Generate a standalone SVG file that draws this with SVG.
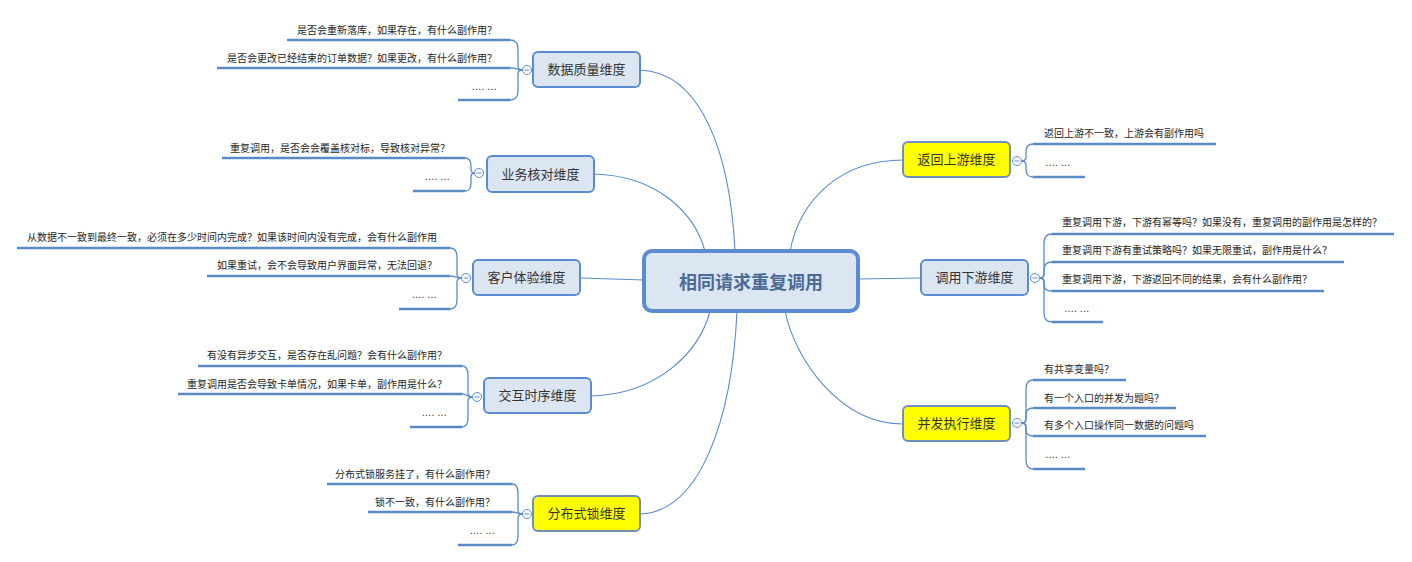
<svg xmlns="http://www.w3.org/2000/svg" width="1412" height="562" viewBox="0 0 1412 562">
<style>
  .bg{fill:#ffffff}
  .conn{fill:none;stroke:#5b8bcb;stroke-width:1.1}
  .brk{fill:none;stroke:#5b8bcb;stroke-width:1.3}
  .ul{stroke:#5a8ac6;stroke-width:2.6;stroke-linecap:butt}
  .leaf{font-family:"Liberation Sans","Noto Sans CJK SC",sans-serif;font-size:10px;fill:#262626}
  .leafL{text-anchor:end}
  .main{fill:#dce6f2;stroke:#5b8bd0;stroke-width:2}
  .hl{fill:#ffff00;stroke:#6f8fb8;stroke-width:2}
  .nt{font-family:"Noto Sans CJK SC",sans-serif;font-size:13px;fill:#333333;text-anchor:middle}
  .tog{fill:#ffffff;stroke:#5b8bcb;stroke-width:1}
  .minus{stroke:#5b8bcb;stroke-width:1}
</style>
<rect class="bg" x="0" y="0" width="1412" height="562"/>

<g id="connectors">
  <path class="conn" d="M640,70 C700,72 730,150 735,251"/>
  <path class="conn" d="M594,174 C660,176 695,215 705,251"/>
  <path class="conn" d="M580,278 L644,280"/>
  <path class="conn" d="M591,396 C660,394 700,350 710,311"/>
  <path class="conn" d="M640,514 C700,512 732,420 737,311"/>
  <path class="conn" d="M903,160 C840,160 800,200 790,251"/>
  <path class="conn" d="M858,279 L921,278"/>
  <path class="conn" d="M903,424 C840,424 795,360 785,311"/>

  <path class="brk" d="M510,40 Q518,40 518,49 L518,66 Q518,70 522.5,70"/>
  <path class="brk" d="M510,68 C516,68 518,70 522.5,70"/>
  <path class="brk" d="M510,100 Q518,100 518,91 L518,74 Q518,70 522.5,70"/>

  <path class="brk" d="M465,158 Q471,158 471,166 L471,169 Q471,173 474.5,173"/>
  <path class="brk" d="M465,191 Q471,191 471,183 L471,177 Q471,173 474.5,173"/>

  <path class="brk" d="M450,248 Q457,248 457,257 L457,274 Q457,278 461.5,278"/>
  <path class="brk" d="M450,276 C455,276 457,278 461.5,278"/>
  <path class="brk" d="M450,309 Q457,309 457,300 L457,282 Q457,278 461.5,278"/>

  <path class="brk" d="M462,366 Q468,366 468,375 L468,393 Q468,397 472.5,397"/>
  <path class="brk" d="M462,394 C467,394 468,397 472.5,397"/>
  <path class="brk" d="M462,427 Q468,427 468,418 L468,401 Q468,397 472.5,397"/>

  <path class="brk" d="M512,484 Q518,484 518,493 L518,510 Q518,514 522.5,514"/>
  <path class="brk" d="M512,512 C517,512 518,514 522.5,514"/>
  <path class="brk" d="M512,545 Q518,545 518,536 L518,518 Q518,514 522.5,514"/>

  <path class="brk" d="M1033,144 Q1026,144 1026,152 L1026,157 Q1026,161 1021.5,161"/>
  <path class="brk" d="M1033,177 Q1026,177 1026,169 L1026,165 Q1026,161 1021.5,161"/>

  <path class="brk" d="M1052,234 Q1044,234 1044,243 L1044,274 Q1044,278 1039.5,278"/>
  <path class="brk" d="M1052,262 Q1044,262 1044,270 L1044,274 Q1044,278 1039.5,278"/>
  <path class="brk" d="M1052,291 Q1044,291 1044,285 L1044,282 Q1044,278 1039.5,278"/>
  <path class="brk" d="M1052,322 Q1044,322 1044,313 L1044,282 Q1044,278 1039.5,278"/>

  <path class="brk" d="M1033,380 Q1026,380 1026,389 L1026,419 Q1026,423 1021.5,423"/>
  <path class="brk" d="M1033,408 Q1026,408 1026,415 L1026,419 Q1026,423 1021.5,423"/>
  <path class="brk" d="M1033,436 Q1026,436 1026,430 L1026,427 Q1026,423 1021.5,423"/>
  <path class="brk" d="M1033,469 Q1026,469 1026,460 L1026,427 Q1026,423 1021.5,423"/>
</g>

<g id="center">
  <rect x="644" y="251" width="214" height="60" rx="8" fill="#dce6f2" stroke="#5b8bd0" stroke-width="4"/>
  <text x="751" y="289" font-family="Noto Sans CJK SC,sans-serif" font-size="18" font-weight="bold" fill="#4a6a96" text-anchor="middle">相同请求重复调用</text>
</g>

<g id="n-data">
  <rect class="main" x="533" y="52" width="107" height="35" rx="5"/>
  <text class="nt" x="586.5" y="74">数据质量维度</text>
  <circle class="tog" cx="527" cy="70" r="4.5"/><line class="minus" x1="524.5" y1="70" x2="529.5" y2="70"/>
  <g id="n-data-1"><line class="ul" x1="287" y1="40" x2="510" y2="40"/><text class="leaf leafL" x="497" y="34">是否会重新落库，如果存在，有什么副作用？</text></g>
  <g id="n-data-2"><line class="ul" x1="217" y1="68" x2="510" y2="68"/><text class="leaf leafL" x="497" y="62">是否会更改已经结束的订单数据？如果更改，有什么副作用？</text></g>
  <g id="n-data-3"><line class="ul" x1="458" y1="100" x2="510" y2="100"/><text class="leaf leafL" x="497" y="90">…. …</text></g>
</g>

<g id="n-check">
  <rect class="main" x="487" y="156" width="107" height="36" rx="5"/>
  <text class="nt" x="540.5" y="179">业务核对维度</text>
  <circle class="tog" cx="479" cy="173" r="4.5"/><line class="minus" x1="476.5" y1="173" x2="481.5" y2="173"/>
  <g id="n-check-1"><line class="ul" x1="222" y1="158" x2="465" y2="158"/><text class="leaf leafL" x="450" y="152">重复调用，是否会会覆盖核对标，导致核对异常？</text></g>
  <g id="n-check-2"><line class="ul" x1="413" y1="191" x2="465" y2="191"/><text class="leaf leafL" x="450" y="180">…. …</text></g>
</g>

<g id="n-ux">
  <rect class="main" x="473" y="260" width="107" height="35" rx="5"/>
  <text class="nt" x="526.5" y="282">客户体验维度</text>
  <circle class="tog" cx="466" cy="278" r="4.5"/><line class="minus" x1="463.5" y1="278" x2="468.5" y2="278"/>
  <g id="n-ux-1"><line class="ul" x1="17" y1="248" x2="450" y2="248"/><text class="leaf leafL" x="437" y="241">从数据不一致到最终一致，必须在多少时间内完成？如果该时间内没有完成，会有什么副作用</text></g>
  <g id="n-ux-2"><line class="ul" x1="207" y1="276" x2="450" y2="276"/><text class="leaf leafL" x="437" y="269">如果重试，会不会导致用户界面异常，无法回退？</text></g>
  <g id="n-ux-3"><line class="ul" x1="399" y1="309" x2="450" y2="309"/><text class="leaf leafL" x="437" y="298">…. …</text></g>
</g>

<g id="n-seq">
  <rect class="main" x="484" y="378" width="107" height="35" rx="5"/>
  <text class="nt" x="537.5" y="400">交互时序维度</text>
  <circle class="tog" cx="477" cy="397" r="4.5"/><line class="minus" x1="474.5" y1="397" x2="479.5" y2="397"/>
  <g id="n-seq-1"><line class="ul" x1="198" y1="366" x2="462" y2="366"/><text class="leaf leafL" x="447" y="359">有没有异步交互，是否存在乱问题？会有什么副作用？</text></g>
  <g id="n-seq-2"><line class="ul" x1="178" y1="394" x2="462" y2="394"/><text class="leaf leafL" x="447" y="388">重复调用是否会导致卡单情况，如果卡单，副作用是什么？</text></g>
  <g id="n-seq-3"><line class="ul" x1="410" y1="427" x2="462" y2="427"/><text class="leaf leafL" x="447" y="416">…. …</text></g>
</g>

<g id="n-lock">
  <rect class="hl" x="533" y="496" width="107" height="35" rx="5"/>
  <text class="nt" x="586.5" y="518">分布式锁维度</text>
  <circle class="tog" cx="527" cy="514" r="4.5"/><line class="minus" x1="524.5" y1="514" x2="529.5" y2="514"/>
  <g id="n-lock-1"><line class="ul" x1="327" y1="484" x2="512" y2="484"/><text class="leaf leafL" x="495" y="478">分布式锁服务挂了，有什么副作用？</text></g>
  <g id="n-lock-2"><line class="ul" x1="368" y1="512" x2="512" y2="512"/><text class="leaf leafL" x="495" y="506">锁不一致，有什么副作用？</text></g>
  <g id="n-lock-3"><line class="ul" x1="458" y1="545" x2="512" y2="545"/><text class="leaf leafL" x="495" y="534">…. …</text></g>
</g>

<g id="n-upstream">
  <rect class="hl" x="903" y="142" width="107" height="35" rx="5"/>
  <text class="nt" x="956.5" y="164">返回上游维度</text>
  <circle class="tog" cx="1017" cy="161" r="4.5"/><line class="minus" x1="1014.5" y1="161" x2="1019.5" y2="161"/>
  <g id="n-upstream-1"><line class="ul" x1="1033" y1="144" x2="1216" y2="144"/><text class="leaf" x="1044" y="137">返回上游不一致，上游会有副作用吗</text></g>
  <g id="n-upstream-2"><line class="ul" x1="1033" y1="177" x2="1085" y2="177"/><text class="leaf" x="1045" y="166">…. …</text></g>
</g>

<g id="n-downstream">
  <rect class="main" x="921" y="260" width="107" height="35" rx="5"/>
  <text class="nt" x="974.5" y="282">调用下游维度</text>
  <circle class="tog" cx="1035" cy="278" r="4.5"/><line class="minus" x1="1032.5" y1="278" x2="1037.5" y2="278"/>
  <g id="n-downstream-1"><line class="ul" x1="1052" y1="234" x2="1394" y2="234"/><text class="leaf" x="1062" y="226">重复调用下游，下游有幂等吗？如果没有，重复调用的副作用是怎样的？</text></g>
  <g id="n-downstream-2"><line class="ul" x1="1052" y1="262" x2="1344" y2="262"/><text class="leaf" x="1062" y="254">重复调用下游有重试策略吗？如果无限重试，副作用是什么？</text></g>
  <g id="n-downstream-3"><line class="ul" x1="1052" y1="291" x2="1324" y2="291"/><text class="leaf" x="1062" y="283">重复调用下游，下游返回不同的结果，会有什么副作用？</text></g>
  <g id="n-downstream-4"><line class="ul" x1="1052" y1="322" x2="1103" y2="322"/><text class="leaf" x="1064" y="312">…. …</text></g>
</g>

<g id="n-concurrency">
  <rect class="hl" x="903" y="406" width="107" height="35" rx="5"/>
  <text class="nt" x="956.5" y="428">并发执行维度</text>
  <circle class="tog" cx="1017" cy="423" r="4.5"/><line class="minus" x1="1014.5" y1="423" x2="1019.5" y2="423"/>
  <g id="n-concurrency-1"><line class="ul" x1="1033" y1="380" x2="1126" y2="380"/><text class="leaf" x="1044" y="373">有共享变量吗？</text></g>
  <g id="n-concurrency-2"><line class="ul" x1="1033" y1="408" x2="1176" y2="408"/><text class="leaf" x="1044" y="402">有一个入口的并发为题吗？</text></g>
  <g id="n-concurrency-3"><line class="ul" x1="1033" y1="436" x2="1206" y2="436"/><text class="leaf" x="1044" y="429">有多个入口操作同一数据的问题吗</text></g>
  <g id="n-concurrency-4"><line class="ul" x1="1033" y1="469" x2="1085" y2="469"/><text class="leaf" x="1045" y="458">…. …</text></g>
</g>
</svg>
